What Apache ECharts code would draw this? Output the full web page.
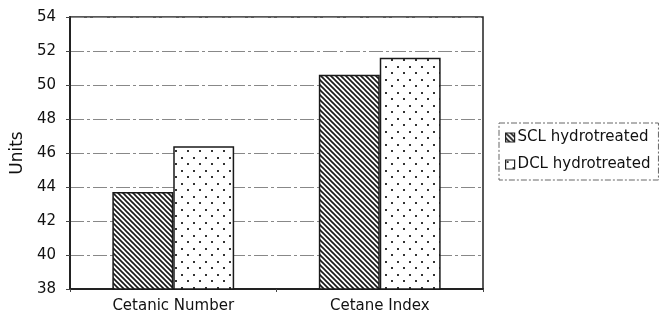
<!DOCTYPE html>
<html><head><meta charset="utf-8">
<script src="https://cdn.jsdelivr.net/npm/echarts@6/dist/echarts.min.js"></script>
<style>html,body{margin:0;padding:0;background:#fff}#c{width:661px;height:320px}</style>
</head><body><div id="c"></div>
<script>
const categories = ['Cetanic Number', 'Cetane Index'];
const sclValues = [43.7, 50.6];
const dclValues = [46.4, 51.6];
const seriesNames = ['SCL hydrotreated', 'DCL hydrotreated'];
const yTicks = { min: 38, max: 54, interval: 2 };

function hatchPattern() {
  const c = document.createElement('canvas');
  c.width = 5; c.height = 5;
  const g = c.getContext('2d');
  g.fillStyle = '#fff'; g.fillRect(0, 0, 5, 5);
  g.strokeStyle = '#1a1a1a'; g.lineWidth = 1.7;
  for (const k of [-5, 0, 5]) {
    g.beginPath(); g.moveTo(k - 1, -1); g.lineTo(k + 6, 6); g.stroke();
  }
  return c;
}
function dotPattern() {
  const c = document.createElement('canvas');
  c.width = 12; c.height = 13;
  const g = c.getContext('2d');
  g.fillStyle = '#fff'; g.fillRect(0, 0, 12, 13);
  g.fillStyle = '#333';
  g.fillRect(1, 1, 2, 2);
  g.fillRect(7, 7, 2, 2);
  return c;
}

const chart = echarts.init(document.getElementById('c'), null, { renderer: 'canvas' });
const font = 'DejaVu Sans';
chart.setOption({
  animation: false,
  backgroundColor: '#fff',
  textStyle: { fontFamily: font, color: '#111' },
  grid: { left: 70, right: 178, top: 17, bottom: 31, show: true, borderColor: '#222', borderWidth: 1.5, backgroundColor: 'transparent' },
  legend: {
    orient: 'vertical', left: 499, top: 123,
    data: seriesNames,
    icon: 'rect', itemWidth: 9, itemHeight: 9, itemGap: 12,
    padding: [7, 8, 8, 6],
    borderColor: '#666', borderWidth: 1, borderType: [6, 2, 2, 2],
    textStyle: { fontFamily: font, fontSize: 15, color: '#111', padding: [0, 0, 0, -2] },
    itemStyle: { borderColor: '#222', borderWidth: 1.2 }
  },
  xAxis: {
    type: 'category', data: categories,
    axisLine: { lineStyle: { color: '#222', width: 2 } },
    axisTick: { show: true, length: 3, lineStyle: { color: '#444' } },
    axisLabel: { fontFamily: font, fontSize: 15, color: '#111', margin: 10 }
  },
  yAxis: {
    type: 'value', min: yTicks.min, max: yTicks.max, interval: yTicks.interval,
    name: 'Units', nameLocation: 'middle', nameGap: 44,
    nameTextStyle: { fontFamily: font, fontSize: 17, color: '#111' },
    axisLine: { show: true, lineStyle: { color: '#222', width: 2 } },
    axisTick: { show: true, length: 4, lineStyle: { color: '#444' } },
    axisLabel: { fontFamily: font, fontSize: 15, color: '#111', margin: 14 },
    splitLine: { show: true, lineStyle: { color: '#888', width: 1, type: [14, 3, 3, 3] } }
  },
  series: [
    {
      name: seriesNames[0], type: 'bar', data: sclValues,
      barGap: '0%', barCategoryGap: '41%',
      itemStyle: { color: { image: hatchPattern(), repeat: 'repeat' }, borderColor: '#1a1a1a', borderWidth: 1.5 }
    },
    {
      name: seriesNames[1], type: 'bar', data: dclValues,
      barGap: '0%', barCategoryGap: '41%',
      itemStyle: { color: { image: dotPattern(), repeat: 'repeat' }, borderColor: '#1a1a1a', borderWidth: 1.5 }
    }
  ]
});
</script></body></html>
